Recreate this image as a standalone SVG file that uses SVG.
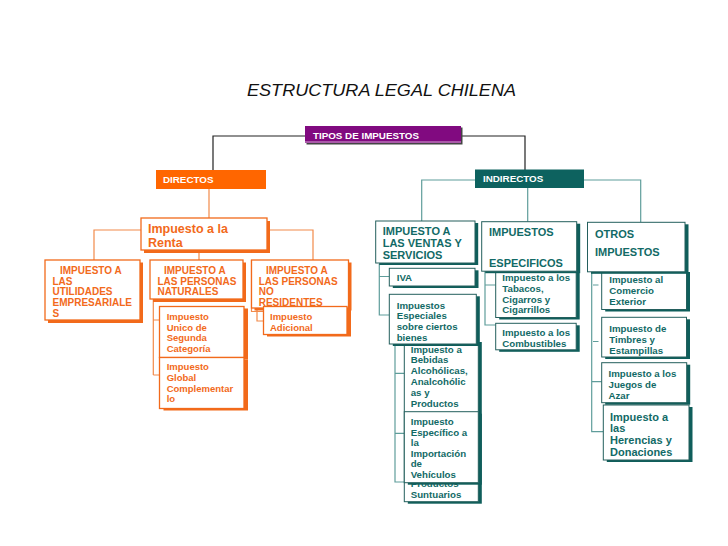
<svg xmlns="http://www.w3.org/2000/svg" width="728" height="546" viewBox="0 0 728 546">
<style>
text{font-family:"Liberation Sans",Arial,sans-serif;font-weight:bold}
.title{font-style:italic;font-weight:normal;font-size:17px;fill:#111}
.wh{fill:#fff;font-size:9.8px}
.o10{fill:#f26a1b;font-size:10px}
.o9{fill:#f26a1b;font-size:9.5px}
.o12{fill:#f26a1b;font-size:12.5px}
.t11{fill:#126a66;font-size:11px}
.t10{fill:#126a66;font-size:9.7px}
.obox{fill:#fff;stroke:#f26a1b;stroke-width:1.3}
.osh{fill:#f26a1b}
.tbox{fill:#fff;stroke:#245f5d;stroke-width:1}
.tsh{fill:#0f5e5b}
.oc{fill:none;stroke:#f28a4a;stroke-width:1.2}
.tc{fill:none;stroke:#5f9d9b;stroke-width:1.2}
.kc{fill:none;stroke:#222;stroke-width:1.2}
</style>
<defs>
<clipPath id="clipTab"><rect x="490" y="274.3" width="100" height="60"/></clipPath>
<clipPath id="clipBeb"><rect x="400" y="345" width="90" height="160"/></clipPath>
</defs>
<rect width="728" height="546" fill="#fff"/>
<text class="title" x="247" y="96" textLength="269" lengthAdjust="spacingAndGlyphs">ESTRUCTURA LEGAL CHILENA</text>

<g id="connectors">
<path class="kc" d="M213,170 V136 H305 M462,136 H525 V170"/>
<path class="oc" d="M209,189 V218 M94,260 V230 H141 M267,230 H313 V260 M199,241 V260"/>
<path class="oc" d="M153.3,299 V375 M153.3,320 H159.5 M153.3,375 H159.5"/>
<path class="oc" d="M251.5,260 V311.5 H263.5 M257,306.5 V321 H263.5"/>
<path class="tc" d="M475,180 H421.7 V221 M584,180 H640.7 V222.3 M527.7,188 V221.7"/>
<path class="tc" d="M379.3,264 V315 H389.3 M379.3,276.5 H389.3"/>
<path class="tc" d="M395,343 V482 H404.3 M395,373.3 H404.3 M395,433.3 H404.3"/>
<path class="tc" d="M485,271 V325 H495.7 M485,285 H495.7"/>
<path class="tc" d="M591.7,272 V431.7 H603.3 M591.7,381.7 H601.7 M593,285 H598.5 M593,341.5 H598.5"/>
</g>

<g id="tipos">
<rect x="306.5" y="127.5" width="156" height="17" fill="#444"/>
<rect x="305" y="126" width="156" height="17" fill="#810a80"/>
<line x1="305" y1="142" x2="461" y2="142" stroke="#e8d0e8" stroke-width="0.8"/>
<text class="wh" x="313" y="138.5">TIPOS DE IMPUESTOS</text>
</g>

<g id="directos">
<rect x="156" y="170" width="110" height="19" fill="#ff6600"/>
<text class="wh" x="163" y="183">DIRECTOS</text>
</g>

<g id="indirectos">
<rect x="475" y="169.5" width="109" height="18.5" fill="#0d625f"/>
<text class="wh" x="483" y="182">INDIRECTOS</text>
</g>

<g id="renta">
<rect class="osh" x="144" y="221" width="126" height="32"/>
<rect class="obox" x="141" y="218" width="126" height="32" stroke-width="2"/>
<text class="o12" x="148" y="233">Impuesto a la</text>
<text class="o12" x="148" y="246.5">Renta</text>
</g>

<g id="utilidades">
<rect class="osh" x="48" y="262.5" width="95" height="60.5"/>
<rect class="obox" x="45" y="260" width="95" height="60"/>
<text class="o10" x="60" y="274">IMPUESTO A</text>
<text class="o10" x="52.5" y="284.7">LAS</text>
<text class="o10" x="52.5" y="295.4">UTILIDADES</text>
<text class="o10" x="52.5" y="306.1">EMPRESARIALE</text>
<text class="o10" x="52.5" y="316.8">S</text>
</g>

<g id="naturales">
<rect class="osh" x="153" y="262.5" width="93" height="39.5"/>
<rect class="obox" x="150" y="260" width="93" height="39"/>
<text class="o10" x="164" y="274">IMPUESTO A</text>
<text class="o10" x="157.5" y="284.7">LAS PERSONAS</text>
<text class="o10" x="157.5" y="295.4">NATURALES</text>
</g>

<g id="no-residentes">
<rect class="osh" x="254.5" y="262.5" width="97" height="48"/>
<rect class="obox" x="251.5" y="260" width="97" height="48"/>
<text class="o10" x="266" y="274">IMPUESTO A</text>
<text class="o10" x="258.7" y="284.7">LAS PERSONAS</text>
<text class="o10" x="258.7" y="295.4">NO</text>
<text class="o10" x="258.7" y="306.3">RESIDENTES</text>
</g>

<g id="adicional">
<rect class="osh" x="267" y="308.5" width="84" height="28"/>
<rect class="obox" x="263.5" y="306.5" width="83.5" height="28"/>
<text class="o9" x="270" y="319.7">Impuesto</text>
<text class="o9" x="270" y="330.5">Adicional</text>
</g>

<g id="unico">
<rect class="osh" x="163.5" y="308.5" width="84.5" height="51"/>
<rect class="obox" x="159.5" y="306.5" width="84.5" height="51"/>
<text class="o9" x="166.7" y="319.7">Impuesto</text>
<text class="o9" x="166.7" y="330.5">Unico de</text>
<text class="o9" x="166.7" y="341.2">Segunda</text>
<text class="o9" x="166.7" y="352">Categoría</text>
</g>

<g id="global">
<rect class="osh" x="163.5" y="359.5" width="84.5" height="51"/>
<rect class="obox" x="159.5" y="357.5" width="84.5" height="51"/>
<text class="o9" x="166.7" y="370">Impuesto</text>
<text class="o9" x="166.7" y="380.8">Global</text>
<text class="o9" x="166.7" y="391.5">Complementar</text>
<text class="o9" x="166.7" y="402.2">lo</text>
</g>

<g id="ventas">
<rect class="tsh" x="379.2" y="223" width="99" height="42"/>
<rect class="tbox" x="375.7" y="221" width="99.3" height="42"/>
<text class="t11" x="382.7" y="235">IMPUESTO A</text>
<text class="t11" x="382.7" y="247">LAS VENTAS Y</text>
<text class="t11" x="382.7" y="259">SERVICIOS</text>
</g>

<g id="iva">
<rect class="tsh" x="392.8" y="270.3" width="85.7" height="17.7"/>
<rect class="tbox" x="389.3" y="268.3" width="85.7" height="17.7"/>
<text class="t10" x="396.7" y="281" font-size="10">IVA</text>
</g>

<g id="bebidas">
<rect class="tsh" x="407.8" y="342" width="74" height="161.7"/>
<rect class="tbox" x="404.3" y="340" width="74" height="161.7"/>
<g clip-path="url(#clipBeb)">
<text class="t10" x="410.7" y="352.5">Impuesto a</text>
<text class="t10" x="410.7" y="363.3">Bebidas</text>
<text class="t10" x="410.7" y="374.1">Alcohólicas,</text>
<text class="t10" x="410.7" y="384.9">Analcohólic</text>
<text class="t10" x="410.7" y="395.7">as y</text>
<text class="t10" x="410.7" y="406.5">Productos</text>
<text class="t10" x="410.7" y="486.8">Productos</text>
<text class="t10" x="410.7" y="497.5">Suntuarios</text>
</g>
</g>

<g id="especifico">
<rect class="tsh" x="407.8" y="413.7" width="74" height="71"/>
<rect class="tbox" x="404.3" y="411.7" width="74" height="71"/>
<text class="t10" x="410.7" y="425">Impuesto</text>
<text class="t10" x="410.7" y="435.6">Específico a</text>
<text class="t10" x="410.7" y="446.2">la</text>
<text class="t10" x="410.7" y="456.8">Importación</text>
<text class="t10" x="410.7" y="467.4">de</text>
<text class="t10" x="410.7" y="478">Vehículos</text>
</g>

<g id="especiales">
<rect class="tsh" x="392.8" y="296.3" width="87" height="49.7"/>
<rect class="tbox" x="389.3" y="294.3" width="87" height="49.7"/>
<text class="t10" x="396.7" y="308.5">Impuestos</text>
<text class="t10" x="396.7" y="319.2">Especiales</text>
<text class="t10" x="396.7" y="329.9">sobre ciertos</text>
<text class="t10" x="396.7" y="340.6">bienes</text>
</g>

<g id="tabacos">
<rect class="tsh" x="499.2" y="272" width="80.5" height="47.5"/>
<rect class="tbox" x="495.7" y="270" width="80.5" height="47.5"/>
<g clip-path="url(#clipTab)">
<text class="t10" x="502.3" y="281">Impuesto a los</text>
</g>
<text class="t10" x="502.3" y="291.8">Tabacos,</text>
<text class="t10" x="502.3" y="302.6">Cigarros y</text>
<text class="t10" x="502.3" y="313.4">Cigarrillos</text>
</g>

<g id="especificos">
<rect class="tsh" x="485.2" y="223.7" width="95" height="49.5"/>
<rect class="tbox" x="481.7" y="221.7" width="95" height="49.5"/>
<text class="t11" x="489" y="236">IMPUESTOS</text>
<text class="t11" x="489" y="267">ESPECIFICOS</text>
</g>

<g id="combustibles">
<rect class="tsh" x="499.2" y="325.3" width="80.5" height="26.5"/>
<rect class="tbox" x="495.7" y="323.3" width="80.5" height="26.5"/>
<text class="t10" x="502.3" y="336">Impuesto a los</text>
<text class="t10" x="502.3" y="346.8">Combustibles</text>
</g>

<g id="comercio">
<rect class="tsh" x="605.2" y="272" width="84.8" height="39.5"/>
<rect class="tbox" x="601.7" y="270" width="84.8" height="39.5"/>
<text class="t10" x="609.3" y="283">Impuesto al</text>
<text class="t10" x="609.3" y="293.8">Comercio</text>
<text class="t10" x="609.3" y="304.6">Exterior</text>
</g>

<g id="otros">
<rect class="tsh" x="591" y="224.3" width="97.5" height="49.5"/>
<rect class="tbox" x="587.5" y="222.3" width="97.5" height="49.5"/>
<text class="t11" x="595" y="238">OTROS</text>
<text class="t11" x="595" y="255.5">IMPUESTOS</text>
</g>

<g id="timbres">
<rect class="tsh" x="605.2" y="319.3" width="84.8" height="39.7"/>
<rect class="tbox" x="601.7" y="317.3" width="84.8" height="39.7"/>
<text class="t10" x="609.3" y="332">Impuesto de</text>
<text class="t10" x="609.3" y="342.8">Timbres y</text>
<text class="t10" x="609.3" y="353.6">Estampillas</text>
</g>

<g id="juegos">
<rect class="tsh" x="605.2" y="364.7" width="85" height="40"/>
<rect class="tbox" x="601.7" y="362.7" width="85" height="40"/>
<text class="t10" x="608.5" y="377">Impuesto a los</text>
<text class="t10" x="608.5" y="387.8">Juegos de</text>
<text class="t10" x="608.5" y="398.6">Azar</text>
</g>

<g id="herencias">
<rect class="tsh" x="606.8" y="407" width="85.7" height="55"/>
<rect class="tbox" x="603.3" y="405" width="85.7" height="55"/>
<text class="t11" x="610" y="420.5">Impuesto a</text>
<text class="t11" x="610" y="432.3">las</text>
<text class="t11" x="610" y="444.1">Herencias y</text>
<text class="t11" x="610" y="455.9">Donaciones</text>
</g>
</svg>
